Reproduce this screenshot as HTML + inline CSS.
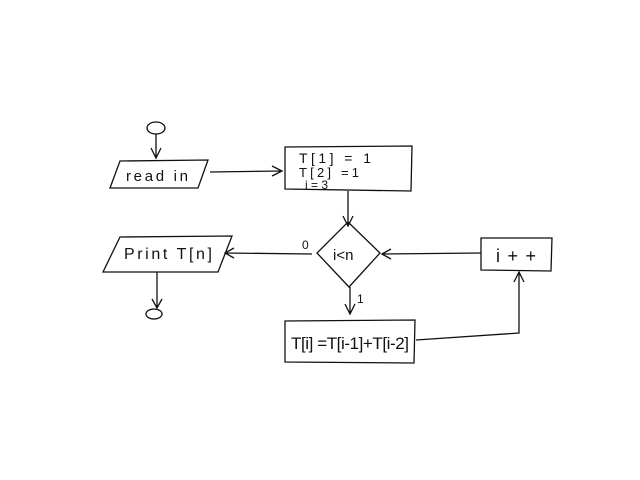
<!DOCTYPE html>
<html><head><style>body{margin:0;background:#fff}svg{display:block}</style></head><body>
<svg width="640" height="480" xmlns="http://www.w3.org/2000/svg" font-family="Liberation Sans, sans-serif" fill="none" stroke="#111" stroke-width="1.3">
<ellipse cx="156" cy="128" rx="9" ry="6"/>
<path d="M156 134 L156 157 M151 148 L156 158 L161 148"/>
<path d="M120 161 L208 160 L198 188 L110 188 Z"/>
<text x="126" y="181" font-size="15" fill="#111" stroke="none" textLength="62">read in</text>
<path d="M210 172 L282 171 M272 166 L282 171 L272 176"/>
<path d="M285 147 L412 146 L411 191 L285 189 Z"/>
<text x="299" y="163" font-size="14" fill="#111" stroke="none" textLength="72">T[1] = 1</text>
<text x="299" y="177" font-size="13" fill="#111" stroke="none" textLength="60">T[2] =1</text>
<text x="305" y="189" font-size="12" fill="#111" stroke="none">i = 3</text>
<path d="M348 191 L348 225 M343 216 L348 226 L353 216"/>
<path d="M348 222 L380 253 L349 287 L317 253 Z"/>
<text x="333" y="260" font-size="15" fill="#111" stroke="none">i&lt;n</text>
<path d="M120 237 L232 236 L218 272 L103 272 Z"/>
<text x="124" y="259" font-size="16" fill="#111" stroke="none" textLength="88">Print T[n]</text>
<path d="M312 254 L225 253 M234 248 L225 253 L234 258"/>
<text x="302" y="249" font-size="12" fill="#111" stroke="none">0</text>
<path d="M157 272 L157 308 M152 299 L157 308 L162 299"/>
<ellipse cx="154" cy="314" rx="8" ry="5"/>
<path d="M350 287 L350 314 M345 304 L350 314 L355 304"/>
<text x="357" y="303" font-size="12" fill="#111" stroke="none">1</text>
<path d="M285 321 L415 320 L414 363 L285 362 Z"/>
<text x="291" y="349" font-size="17" fill="#111" stroke="none" textLength="118">T[i] =T[i-1]+T[i-2]</text>
<path d="M416 340 L519 333 L519 272 M514 282 L519 272 L524 282"/>
<path d="M481 238 L552 238 L551 271 L481 270 Z"/>
<text x="496" y="262" font-size="18" fill="#111" stroke="none" textLength="40">i++</text>
<path d="M481 253 L382 254 M391 249 L382 254 L391 259"/>
</svg>
</body></html>
